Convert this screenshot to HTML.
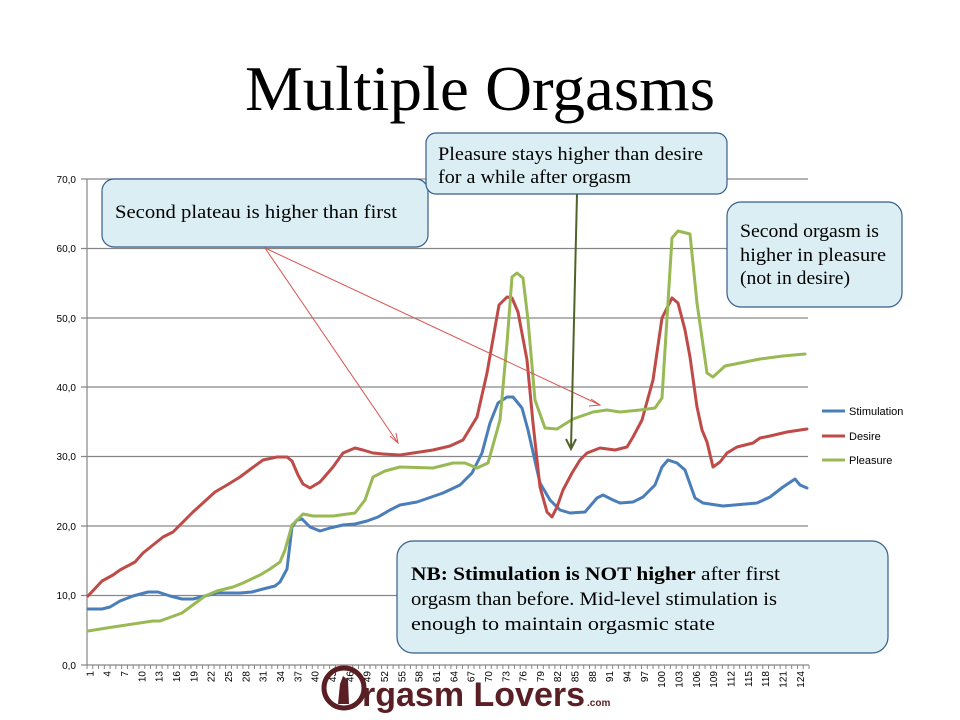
<!DOCTYPE html>
<html><head><meta charset="utf-8"><style>
html,body{margin:0;padding:0;background:#fff;}
svg{display:block;}
</style></head><body>
<svg width="960" height="720" viewBox="0 0 960 720" xmlns="http://www.w3.org/2000/svg">
<rect width="960" height="720" fill="#fff"/>
<text x="245" y="110" textLength="470" lengthAdjust="spacingAndGlyphs" font-family="Liberation Serif, serif" font-size="64" fill="#000">Multiple Orgasms</text>
<g stroke="#868686" stroke-width="1.2">
<line x1="81" y1="179" x2="808" y2="179"/>
<line x1="81" y1="248.5" x2="808" y2="248.5"/>
<line x1="81" y1="318" x2="808" y2="318"/>
<line x1="81" y1="387" x2="808" y2="387"/>
<line x1="81" y1="456.5" x2="808" y2="456.5"/>
<line x1="81" y1="526" x2="808" y2="526"/>
<line x1="81" y1="595.5" x2="808" y2="595.5"/>
<line x1="81" y1="665" x2="809" y2="665"/>
<line x1="87" y1="179" x2="87" y2="665"/>
</g>
<g font-family="Liberation Sans, sans-serif" font-size="10" fill="#000" text-anchor="end">
<text x="76" y="183">70,0</text><text x="76" y="252">60,0</text><text x="76" y="322">50,0</text>
<text x="76" y="391">40,0</text><text x="76" y="460">30,0</text><text x="76" y="530">20,0</text>
<text x="76" y="599">10,0</text><text x="76" y="669">0,0</text>
</g>
<g id="ticks" stroke="#868686" stroke-width="1"></g>
<g id="xl" font-family="Liberation Sans, sans-serif" font-size="10" fill="#000"></g>
<g fill="none" stroke-width="3" stroke-linejoin="round" stroke-linecap="round">
<polyline stroke="#4a7ebb" points="88,609 102,609 110,607 120,601 133,596 148,592 158,592 170,596 182,599 193,599 205,596 217,593 240,593 252,592 263,589 275,586 280,582 287,569 292,527 297,520 302,519 310,527 320,531 330,528 343,525 355,524 367,521 378,517 390,510 400,505 417,502 443,493 460,485 472,473 482,453 490,423 498,403 507,397 513,397 522,408 528,430 540,483 550,500 560,510 570,513 585,512 597,498 603,495 613,500 620,503 633,502 643,497 655,485 662,467 668,460 677,463 685,470 695,498 703,503 723,506 757,503 770,497 783,487 795,479 800,485 807,488"/>
<polyline stroke="#be4b48" points="88,596 102,581 113,575 120,570 135,562 143,553 163,537 173,532 193,512 215,492 227,485 240,477 252,468 263,460 277,457 287,457 292,461 298,475 303,484 310,488 320,482 333,467 343,453 355,448 363,450 373,453 383,454 400,455 433,450 450,446 463,440 477,417 487,373 499,305 507,297 512,298 518,312 527,360 533,423 540,487 547,512 552,517 557,507 563,490 572,473 580,460 587,453 600,448 615,450 627,447 633,437 642,420 653,380 662,318 672,298 678,303 685,330 690,357 697,407 702,430 707,442 713,467 720,462 727,453 737,447 753,443 760,438 770,436 787,432 807,429"/>
<polyline stroke="#98b954" points="88,631 113,627 153,621 160,621 182,613 205,596 217,591 233,587 243,583 260,575 270,569 280,562 285,550 292,525 303,514 313,516 333,516 355,513 365,500 373,477 385,471 400,467 433,468 453,463 465,463 477,468 488,463 500,420 507,343 512,277 517,273 523,278 528,320 535,400 545,428 557,429 573,419 593,412 607,410 620,412 640,410 655,408 662,398 672,238 678,231 690,234 697,303 707,373 713,377 725,366 740,363 760,359 783,356 805,354"/>
</g>
<g font-family="Liberation Sans, sans-serif" font-size="11" fill="#000">
<line x1="822" y1="411" x2="845" y2="411" stroke="#4a7ebb" stroke-width="3"/><text x="849" y="415">Stimulation</text>
<line x1="822" y1="436" x2="845" y2="436" stroke="#be4b48" stroke-width="3"/><text x="849" y="440">Desire</text>
<line x1="822" y1="460" x2="845" y2="460" stroke="#98b954" stroke-width="3"/><text x="849" y="464">Pleasure</text>
</g>
<g stroke="#d9534f" stroke-width="1" fill="none">
<line x1="265" y1="248" x2="398" y2="443"/>
<polyline points="390,436 398,443 396,433"/>
<line x1="265" y1="248" x2="600" y2="405"/>
<polyline points="591,399 600,405 589,406"/>
</g>
<g stroke="#4f6228" stroke-width="2" fill="none">
<line x1="577" y1="194" x2="571" y2="448"/>
<polyline points="566,439 571,449 576,439"/>
</g>
<g fill="#daeef3" stroke="#385d8a" stroke-width="1.2">
<rect x="102" y="179" width="326" height="68" rx="12"/>
<rect x="426" y="133" width="301" height="61" rx="10"/>
<rect x="727" y="202" width="175" height="105" rx="14"/>
<rect x="397" y="541" width="491" height="112" rx="16"/>
</g>
<g font-family="Liberation Serif, serif" font-size="19" fill="#000">
<text x="115" y="218" textLength="282" lengthAdjust="spacingAndGlyphs">Second plateau is higher than first</text>
<text x="438" y="160" textLength="265" lengthAdjust="spacingAndGlyphs">Pleasure stays higher than desire</text>
<text x="438" y="183" textLength="193" lengthAdjust="spacingAndGlyphs">for a while after orgasm</text>
<text x="740" y="237" textLength="139" lengthAdjust="spacingAndGlyphs">Second orgasm is</text>
<text x="740" y="261" textLength="146" lengthAdjust="spacingAndGlyphs">higher in pleasure</text>
<text x="740" y="284" textLength="110" lengthAdjust="spacingAndGlyphs">(not in desire)</text>
<text x="411" y="580" textLength="369" lengthAdjust="spacingAndGlyphs"><tspan font-weight="bold">NB: Stimulation is NOT higher</tspan> after first</text>
<text x="411" y="605" textLength="366" lengthAdjust="spacingAndGlyphs">orgasm than before. Mid-level stimulation is</text>
<text x="411" y="630" textLength="304" lengthAdjust="spacingAndGlyphs">enough to maintain orgasmic state</text>
</g>
<g fill="#5a1f25">
<circle cx="344" cy="688" r="20" fill="none" stroke="#5a1f25" stroke-width="5"/>
<path d="M338,704 L340,684 L343,676 L348,680 L349,704 Z"/>
<text x="362" y="706" font-family="Liberation Sans, sans-serif" font-weight="bold" font-size="34" textLength="223" lengthAdjust="spacingAndGlyphs">rgasm Lovers</text>
<text x="587" y="706" font-family="Liberation Sans, sans-serif" font-weight="bold" font-size="10">.com</text>
</g>
<script>
(function(){
var t=document.getElementById('ticks'),l=document.getElementById('xl'),ns='http://www.w3.org/2000/svg';
var w=(809-87)/125;
for(var i=0;i<=125;i++){var x=87+w*i;var e=document.createElementNS(ns,'line');e.setAttribute('x1',x);e.setAttribute('x2',x);e.setAttribute('y1',665);e.setAttribute('y2',669);t.appendChild(e);}
for(var i=1;i<=124;i+=3){var x=87+w*(i-0.5)+3.5;var e=document.createElementNS(ns,'text');e.setAttribute('transform','translate('+x+',671) rotate(-90)');e.setAttribute('text-anchor','end');e.textContent=i;l.appendChild(e);}
})();
</script>
</svg>
</body></html>
